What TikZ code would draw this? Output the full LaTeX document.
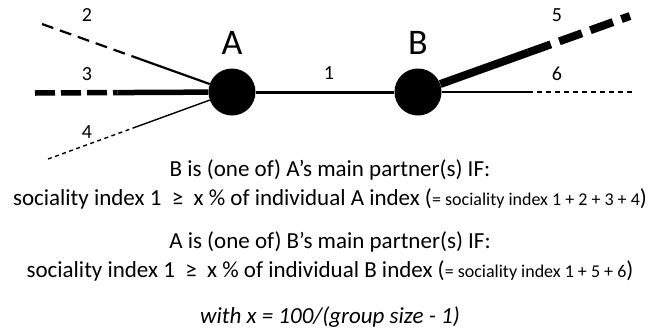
\documentclass[tikz,border=0pt]{standalone}
\usepackage{fontspec}
\setmainfont{Carlito}
\usetikzlibrary{positioning,calc}

\begin{document}
\begin{tikzpicture}[x=1pt,y=-1pt,
	indiv/.style={circle,fill=black,minimum size=47pt,inner sep=0pt},
	num/.style={font=\fontsize{20}{22}\selectfont,inner sep=0pt},
	big/.style={font=\fontsize{36}{40}\selectfont,inner sep=0pt},
	rule/.style={font=\fontsize{23}{26}\selectfont,inner sep=0pt}]
\useasboundingbox (0,0) rectangle (657,333);
\node[indiv] (A) at (232,92){};
\node[indiv] (B) at (418,92){};
\node[big] (nA) at (232,43){A};
\node[big] (nB) at (418,43){B};
\foreach \n/\x/\y in {1/329/73,2/87/15,3/87/74,4/87/132,5/557/15,6/557/74}
	\node[num] (l\n) at (\x,\y){\n};
% free ends and the points where dashes stop
\coordinate (e2) at (42,24);  \coordinate (m2) at ($(e2)!0.51!(A)$);
\coordinate (e3) at (35,93);  \coordinate (m3) at ($(e3)!0.42!(A)$);
\coordinate (e4) at (48,159); \coordinate (m4) at ($(e4)!0.48!(A)$);
\coordinate (e5) at (630,16); \coordinate (m5) at ($(B)!0.52!(e5)$);
\coordinate (e6) at (634,92); \coordinate (m6) at ($(B)!0.51!(e6)$);
\draw[line width=3pt] (A) -- (B);
\draw[line width=2.2pt,dash pattern=on 12pt off 7pt] (e2) -- (m2);
\draw[line width=2.2pt] (m2) -- (A);
\draw[line width=5.5pt,dash pattern=on 20pt off 6pt] (e3) -- (m3);
\draw[line width=5.5pt] (m3) -- (A);
\draw[line width=1.4pt,dash pattern=on 4pt off 3.5pt] (e4) -- (m4);
\draw[line width=1.4pt] (m4) -- (A);
\draw[line width=8pt,dash pattern=on 24pt off 9pt] (m5) -- (e5);
\draw[line width=8pt] (B) -- (m5);
\draw[line width=1.4pt,dash pattern=on 5pt off 4pt] (m6) -- (e6);
\draw[line width=1.4pt] (B) -- (m6);
% conditions
\node[rule] (t1) at (330,170){B is (one of) A’s main partner(s) IF:};
\node[rule] (t2) at (330,199){sociality index 1 \ ≥ \ x \% of individual A index ({\fontsize{18}{20}\selectfont = sociality index 1 + 2 + 3 + 4})};
\node[rule] (t3) at (330,242){A is (one of) B’s main partner(s) IF:};
\node[rule] (t4) at (330,271){sociality index 1 \ ≥ \ x \% of individual B index ({\fontsize{18}{20}\selectfont = sociality index 1 + 5 + 6})};
\node[rule] (t5) at (330,317){\itshape with x = 100/(group size - 1)};
\end{tikzpicture}
\end{document}
